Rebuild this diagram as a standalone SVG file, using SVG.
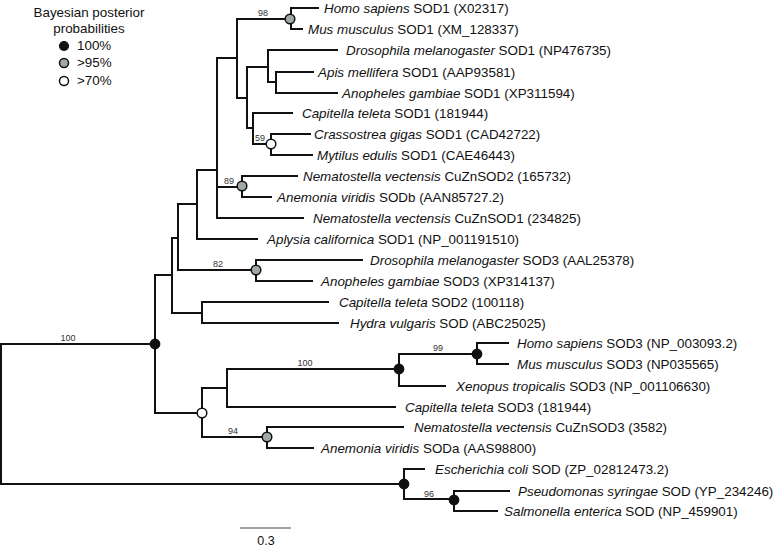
<svg xmlns="http://www.w3.org/2000/svg" width="776" height="549" viewBox="0 0 776 549">
<style>
text{font-family:"Liberation Sans",Arial,sans-serif;fill:#111}
.lf{font-size:13.4px}
.sp{font-style:italic}
.bs{font-size:9px;fill:#333;text-anchor:middle}
.lg{font-size:13.4px}
.br{fill:none;stroke:#111;stroke-width:2;stroke-linecap:square}
.pp100{fill:#111;stroke:#111;stroke-width:1.2}
.pp95{fill:#9fa9a6;stroke:#111;stroke-width:1.5}
.pp70{fill:#fff;stroke:#111;stroke-width:1.5}
</style>
<rect width="776" height="549" fill="#fff"/>
<g id="legend">
<text class="lg" x="89" y="17" text-anchor="middle">Bayesian posterior</text>
<text class="lg" x="89" y="33" text-anchor="middle">probabilities</text>
<circle class="pp100" cx="64" cy="46" r="4.5"/>
<circle class="pp95" cx="64" cy="63" r="4.5"/>
<circle class="pp70" cx="64" cy="81" r="4.5"/>
<text class="lg" x="77" y="50">100%</text>
<text class="lg" x="77" y="67">&gt;95%</text>
<text class="lg" x="77" y="85">&gt;70%</text>
</g>
<g id="connectors">
<path class="br" d="M1 344V484M1 344H155M1 484H404"/>
<path class="br" d="M155 275V413M155 275H172M155 413H202"/>
<path class="br" d="M172 238V313M172 238H178M172 313H202"/>
<path class="br" d="M178 204V270M178 204H197M178 270H256"/>
<path class="br" d="M197 170V239M197 170H217M197 239H257"/>
<path class="br" d="M217 58V218M217 58H237M217 187H242M217 218H303"/>
<path class="br" d="M237 19V98M237 19H290M237 98H247"/>
<path class="br" d="M291 8V29M291 8H318M291 29H302"/>
<path class="br" d="M247 67V128M247 67H268M247 128H253"/>
<path class="br" d="M268 50V82M268 50H337M268 82H276"/>
<path class="br" d="M276 72V93M276 72H313M276 93H337"/>
<path class="br" d="M253 113V144M253 113H292M253 144H271"/>
<path class="br" d="M271 134V155M271 134H310M271 155H312"/>
<path class="br" d="M242 176V197M242 176H297M242 197H271"/>
<path class="br" d="M256 260V281M256 260H362M256 281H312"/>
<path class="br" d="M202 302V323M202 302H328M202 323H338"/>
<path class="br" d="M202 388V437M202 388H227M202 437H267"/>
<path class="br" d="M227 369V407M227 369H399M227 407H395"/>
<path class="br" d="M399 354V386M399 354H477M399 386H445"/>
<path class="br" d="M477 343V364M477 343H508M477 364H508"/>
<path class="br" d="M267 427V448M267 427H403M267 448H313"/>
<path class="br" d="M404 469V499M404 469H424M404 499H454"/>
<path class="br" d="M454 491V511M454 491H509M454 511H497"/>
</g>
<g id="support">
<text class="bs" x="263" y="16">98</text>
<text class="bs" x="260" y="141">59</text>
<text class="bs" x="229" y="184">89</text>
<text class="bs" x="218" y="267">82</text>
<text class="bs" x="68" y="341">100</text>
<text class="bs" x="305" y="366">100</text>
<text class="bs" x="438" y="351">99</text>
<text class="bs" x="233" y="434">94</text>
<text class="bs" x="429" y="497">96</text>
</g>
<g id="nodes">
<circle id="n98" class="pp95" cx="290" cy="19" r="4.8"/>
<circle id="n59" class="pp70" cx="271" cy="144" r="4.8"/>
<circle id="n89" class="pp95" cx="242" cy="186" r="4.8"/>
<circle id="n82" class="pp95" cx="256" cy="270" r="4.8"/>
<circle id="nA" class="pp100" cx="155" cy="344" r="4.8"/>
<circle id="nL" class="pp70" cx="202" cy="413" r="4.8"/>
<circle id="n94" class="pp95" cx="267" cy="437" r="4.8"/>
<circle id="n100" class="pp100" cx="399" cy="369" r="4.8"/>
<circle id="n99" class="pp100" cx="477" cy="354" r="4.8"/>
<circle id="nBac" class="pp100" cx="404" cy="484" r="4.8"/>
<circle id="n96" class="pp100" cx="454" cy="500" r="4.8"/>
</g>
<g id="leaves">
<g id="leaf-hs1"><text class="lf" x="324" y="13"><tspan class="sp">Homo sapiens</tspan> SOD1 (X02317)</text></g>
<g id="leaf-mm1"><text class="lf" x="308" y="34"><tspan class="sp">Mus musculus</tspan> SOD1 (XM_128337)</text></g>
<g id="leaf-dm1"><text class="lf" x="346" y="55"><tspan class="sp">Drosophila melanogaster</tspan> SOD1 (NP476735)</text></g>
<g id="leaf-am1"><text class="lf" x="318" y="77"><tspan class="sp">Apis mellifera</tspan> SOD1 (AAP93581)</text></g>
<g id="leaf-ag1"><text class="lf" x="342" y="98"><tspan class="sp">Anopheles gambiae</tspan> SOD1 (XP311594)</text></g>
<g id="leaf-ct1"><text class="lf" x="302" y="118"><tspan class="sp">Capitella teleta</tspan> SOD1 (181944)</text></g>
<g id="leaf-cg1"><text class="lf" x="314" y="139"><tspan class="sp">Crassostrea gigas</tspan> SOD1 (CAD42722)</text></g>
<g id="leaf-me1"><text class="lf" x="317" y="160"><tspan class="sp">Mytilus edulis</tspan> SOD1 (CAE46443)</text></g>
<g id="leaf-nv2"><text class="lf" x="303" y="181"><tspan class="sp">Nematostella vectensis</tspan> CuZnSOD2 (165732)</text></g>
<g id="leaf-avb"><text class="lf" x="277" y="202"><tspan class="sp">Anemonia viridis</tspan> SODb (AAN85727.2)</text></g>
<g id="leaf-nv1"><text class="lf" x="313" y="223"><tspan class="sp">Nematostella vectensis</tspan> CuZnSOD1 (234825)</text></g>
<g id="leaf-ac1"><text class="lf" x="267" y="244"><tspan class="sp">Aplysia californica</tspan> SOD1 (NP_001191510)</text></g>
<g id="leaf-dm3"><text class="lf" x="370" y="265"><tspan class="sp">Drosophila melanogaster</tspan> SOD3 (AAL25378)</text></g>
<g id="leaf-ag3"><text class="lf" x="321" y="286"><tspan class="sp">Anopheles gambiae</tspan> SOD3 (XP314137)</text></g>
<g id="leaf-ct2"><text class="lf" x="339" y="307"><tspan class="sp">Capitella teleta</tspan> SOD2 (100118)</text></g>
<g id="leaf-hv"><text class="lf" x="350" y="328"><tspan class="sp">Hydra vulgaris</tspan> SOD (ABC25025)</text></g>
<g id="leaf-hs3"><text class="lf" x="517" y="348"><tspan class="sp">Homo sapiens</tspan> SOD3 (NP_003093.2)</text></g>
<g id="leaf-mm3"><text class="lf" x="517" y="369"><tspan class="sp">Mus musculus</tspan> SOD3 (NP035565)</text></g>
<g id="leaf-xt3"><text class="lf" x="456" y="391"><tspan class="sp">Xenopus tropicalis</tspan> SOD3 (NP_001106630)</text></g>
<g id="leaf-ct3"><text class="lf" x="405" y="412"><tspan class="sp">Capitella teleta</tspan> SOD3 (181944)</text></g>
<g id="leaf-nv3"><text class="lf" x="414" y="432"><tspan class="sp">Nematostella vectensis</tspan> CuZnSOD3 (3582)</text></g>
<g id="leaf-ava"><text class="lf" x="321" y="453"><tspan class="sp">Anemonia viridis</tspan> SODa (AAS98800)</text></g>
<g id="leaf-ec"><text class="lf" x="435" y="474"><tspan class="sp">Escherichia coli</tspan> SOD (ZP_02812473.2)</text></g>
<g id="leaf-ps"><text class="lf" x="518" y="496"><tspan class="sp">Pseudomonas syringae</tspan> SOD (YP_234246)</text></g>
<g id="leaf-se"><text class="lf" x="504" y="516"><tspan class="sp">Salmonella enterica</tspan> SOD (NP_459901)</text></g>
</g>
<g id="scale">
<path d="M240 528H291" stroke="#444" stroke-width="1.2" fill="none"/>
<text x="266" y="545" font-size="12.5" text-anchor="middle">0.3</text>
</g>
</svg>
